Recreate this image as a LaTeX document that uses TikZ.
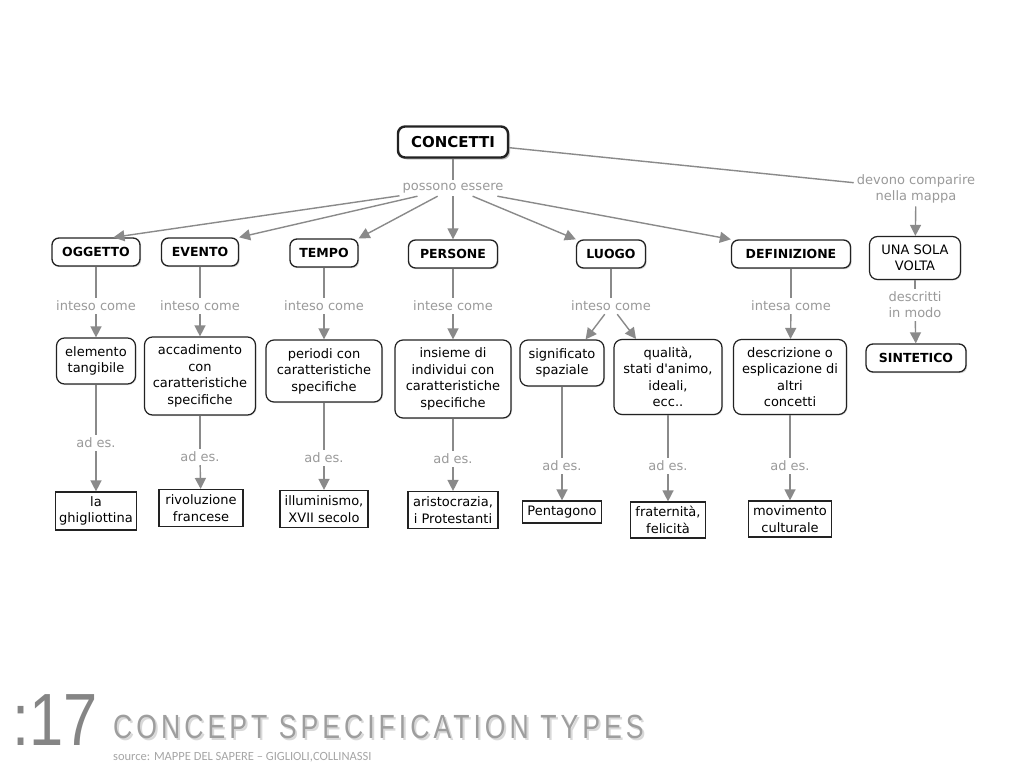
\documentclass[tikz,border=0pt]{standalone}
\usepackage{fontspec}
\setmainfont{DejaVu Sans}[Ligatures=TeXOff]
\newfontfamily\titlefont[LetterSpace=15]{Liberation Sans}
\newfontfamily\numfont{Liberation Sans}
\newfontfamily\srcfont{Carlito}
\usetikzlibrary{arrows.meta,shadows}
\definecolor{lncol}{HTML}{8A8A8A}
\definecolor{labcol}{HTML}{9A9A9A}
\definecolor{bordcol}{HTML}{222222}
\tikzset{
  topbox/.style={draw=bordcol, line width=1.3pt, rounded corners=7pt, fill=white,
     drop shadow={shadow xshift=1.2pt, shadow yshift=-1.2pt, fill=black!30},
     font=\bfseries\fontsize{12.5}{15}\selectfont, align=center, inner sep=2pt},
  cbox/.style={draw=bordcol, line width=1.2pt, rounded corners=8pt, fill=white,
     drop shadow={shadow xshift=1pt, shadow yshift=-1pt, fill=black!20},
     font=\fontsize{13}{16.5}\selectfont, align=center, inner sep=2pt},
  exbox/.style={draw=bordcol, line width=1.2pt, fill=white,
     font=\fontsize{13}{16.5}\selectfont, align=center, inner sep=2pt},
  lab/.style={text=labcol, font=\fontsize{13}{16}\selectfont, align=center, inner sep=3pt},
  ln/.style={draw=lncol, line width=1.4pt},
  arr/.style={ln, -{Triangle[length=11pt,width=11pt]}}
}
\begin{document}
\begin{tikzpicture}[x=1pt,y=-1pt]
\useasboundingbox[fill=white] (0,0) rectangle (1024,768);

% top
\node[topbox, line width=2.4pt, font=\bfseries\fontsize{15}{17}\selectfont,
      drop shadow={shadow xshift=2pt, shadow yshift=-2pt, fill=black!45},
      minimum width=110, minimum height=31] (conc) at (453,142) {CONCETTI};
\node[lab] (pe) at (453,188) {possono essere};
\node[lab] (dc) at (916,189) {devono comparire\\nella mappa};

% level 1
\node[topbox, minimum width=88, minimum height=28] (c1) at (96,252) {OGGETTO};
\node[topbox, minimum width=77, minimum height=28] (c2) at (200,252) {EVENTO};
\node[topbox, minimum width=68, minimum height=28] (c3) at (324,253) {TEMPO};
\node[topbox, minimum width=89, minimum height=28] (c4) at (453,254) {PERSONE};
\node[topbox, minimum width=69, minimum height=28] (c5) at (611,254) {LUOGO};
\node[topbox, minimum width=119, minimum height=28] (c6) at (791,254) {DEFINIZIONE};
\node[cbox, minimum width=91, minimum height=43, font=\fontsize{13}{16}\selectfont] (usv) at (915,258) {UNA SOLA\\VOLTA};
\node[lab] (ds) at (915,305) {descritti\\in modo};
\node[topbox, minimum width=100, minimum height=28] (sin) at (916,358) {SINTETICO};

% inteso come labels
\node[lab] (ic1) at (96,306) {inteso come};
\node[lab] (ic2) at (200,306) {inteso come};
\node[lab] (ic3) at (324,306) {inteso come};
\node[lab] (ic4) at (453,306) {intese come};
\node[lab] (ic5) at (611,306) {inteso come};
\node[lab] (ic6) at (791,306) {intesa come};

% level 2
\node[cbox, minimum width=79, minimum height=46] (e1) at (96,361) {elemento\\tangibile};
\node[cbox, minimum width=111, minimum height=78] (e2) at (200,376) {accadimento\\con\\caratteristiche\\specifiche};
\node[cbox, minimum width=116, minimum height=62] (e3) at (324,371) {periodi con\\caratteristiche\\specifiche};
\node[cbox, minimum width=116, minimum height=78] (e4) at (453,379) {insieme di\\individui con\\caratteristiche\\specifiche};
\node[cbox, minimum width=84, minimum height=46] (e5a) at (562,363) {significato\\spaziale};
\node[cbox, minimum width=108, minimum height=75] (e5b) at (668,377) {qualità,\\stati d'animo,\\ideali,\\ecc..};
\node[cbox, minimum width=113, minimum height=75] (e6) at (790,377) {descrizione o\\esplicazione di\\altri\\concetti};

% ad es. labels
\node[lab] (ad1) at (96,443) {ad es.};
\node[lab] (ad2) at (200,457) {ad es.};
\node[lab] (ad3) at (324,458) {ad es.};
\node[lab] (ad4) at (453,459) {ad es.};
\node[lab] (ad5a) at (562,466) {ad es.};
\node[lab] (ad5b) at (668,466) {ad es.};
\node[lab] (ad6) at (790,466) {ad es.};

% level 3
\node[exbox, minimum width=81, minimum height=38] (x1) at (96,511) {la\\ghigliottina};
\node[exbox, minimum width=84, minimum height=37] (x2) at (201,508) {rivoluzione\\francese};
\node[exbox, minimum width=88, minimum height=37] (x3) at (324,509) {illuminismo,\\XVII secolo};
\node[exbox, minimum width=90, minimum height=37] (x4) at (453,510) {aristocrazia,\\i Protestanti};
\node[exbox, minimum width=79, minimum height=22] (x5a) at (562,512) {Pentagono};
\node[exbox, minimum width=75, minimum height=36] (x5b) at (668,520) {fraternità,\\felicità};
\node[exbox, minimum width=83, minimum height=36] (x6) at (790,519) {movimento\\culturale};

% connectors top
\draw[ln] (conc) -- (pe);
\draw[ln] (conc) -- (dc);
\draw[arr] (pe) -- (c1.40);
\draw[arr] (pe) -- (c2.north east);
\draw[arr] (pe) -- (c3.north east);
\draw[arr] (pe) -- (c4);
\draw[arr] (pe) -- (c5.north west);
\draw[arr] (pe) -- (c6.north west);
\draw[arr] (dc) -- (usv);
\draw[ln] (usv) -- (ds);
\draw[arr] (ds) -- (sin);

% columns
\foreach \i in {1,2,3,4,6}{
  \draw[ln] (c\i) -- (ic\i);
  \draw[arr] (ic\i) -- (e\i);
  \draw[ln] (e\i) -- (ad\i);
  \draw[arr] (ad\i) -- (x\i);
}
\draw[ln] (c5) -- (ic5);
\draw[arr] (ic5) -- (e5a.45);
\draw[arr] (ic5) -- (e5b.130);
\draw[ln] (e5a) -- (ad5a);
\draw[arr] (ad5a) -- (x5a);
\draw[ln] (e5b) -- (ad5b);
\draw[arr] (ad5b) -- (x5b);

% title
\node[anchor=base west, inner sep=0pt, text=black!48] (num) at (12,745)
  {\scalebox{0.83}[1]{\numfont\fontsize{74}{74}\selectfont :17}};
\node[anchor=base west, inner sep=0pt, text=black!15] (tshadow) at (115,740)
  {\scalebox{0.795}[1]{\titlefont\fontsize{33.5}{34}\selectfont CONCEPT SPECIFICATION TYPES}};
\node[anchor=base west, inner sep=0pt, text=black!38] (title) at (113,738)
  {\scalebox{0.795}[1]{\titlefont\fontsize{33.5}{34}\selectfont CONCEPT SPECIFICATION TYPES}};
\node[anchor=base west, inner sep=0pt, text=black!35] (src) at (113,760)
  {\srcfont\fontsize{12.5}{13}\selectfont source: MAPPE DEL SAPERE – GIGLIOLI,COLLINASSI};
\end{tikzpicture}
\end{document}
